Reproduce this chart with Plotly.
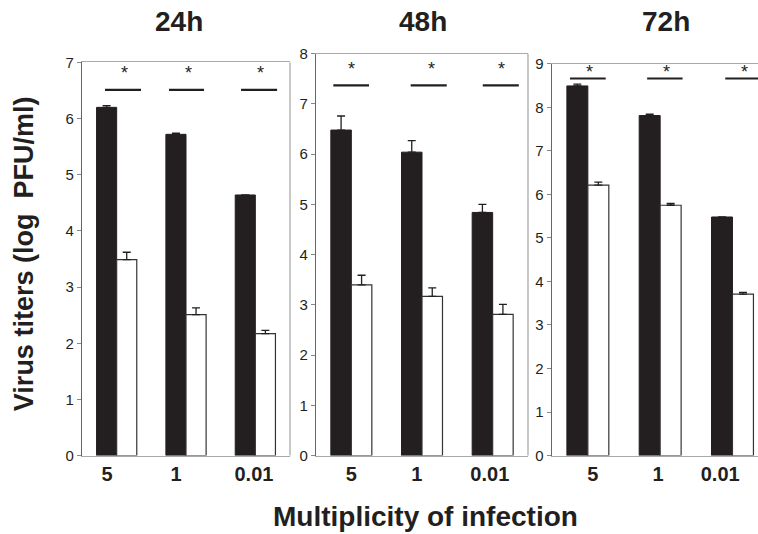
import plotly.graph_objects as go

# ---- data ----
categories = ["5", "1", "0.01"]
panels = ["24h", "48h", "72h"]

black_24 = [6.20, 5.72, 4.64]
black_24_err = [0.03, 0.02, 0.0]
white_24 = [3.49, 2.51, 2.17]
white_24_err = [0.13, 0.12, 0.06]

black_48 = [6.48, 6.04, 4.84]
black_48_err = [0.28, 0.23, 0.16]
white_48 = [3.40, 3.17, 2.81]
white_48_err = [0.19, 0.17, 0.20]

black_72 = [8.49, 7.81, 5.48]
black_72_err = [0.04, 0.03, 0.0]
white_72 = [6.21, 5.75, 3.71]
white_72_err = [0.07, 0.04, 0.04]

y_max = [7, 8, 9]

# ---- layout config ----
W, H = 758, 534
DARK = "#231f20"
FONT = "Liberation Sans, Arial, sans-serif"

def px(x):
    return x / W

def py(y):
    return 1 - ((y - 9.4) / 0.966) / H

x_domains = [(px(82), px(290)), (px(316), px(528)), (px(551.7), 1.0)]
y_domains = [(py(455), py(62.7)), (py(455), py(54)), (py(455), py(64))]
x_ranges = [[-0.5, 2.5], [-0.5, 2.5], [-0.5, 2.353]]
label_pos = [[-0.14, 0.855, 1.98], [0.0, 0.925, 1.96], [0.07, 0.97, 1.83]]
sig_y = [6.51, 7.37, 8.66]
sig_x = [[(-0.168, 0.351), (0.755, 1.26), (1.794, 2.314)],
         [(-0.255, 0.25), (0.84, 1.35), (1.86, 2.37)],
         [(-0.247, 0.247), (0.82, 1.31), (1.90, 2.40)]]
star_x = [[0.12, 1.04, 2.08], [0.005, 1.13, 2.12], [0.016, 1.09, 2.16]]
star_dy = [0.08, 0.09, -0.12]
title_x = [179, 423, 665.5]

blacks = [(black_24, black_24_err), (black_48, black_48_err), (black_72, black_72_err)]
whites = [(white_24, white_24_err), (white_48, white_48_err), (white_72, white_72_err)]

fig = go.Figure()
xpos = list(range(len(categories)))

for i in range(3):
    xa = "x" if i == 0 else f"x{i+1}"
    ya = "y" if i == 0 else f"y{i+1}"
    b, be = blacks[i]
    w, we = whites[i]
    fig.add_trace(go.Bar(
        x=xpos, y=b, xaxis=xa, yaxis=ya, offsetgroup="black",
        marker=dict(color=DARK, line=dict(color=DARK, width=1)),
        error_y=dict(type="data", symmetric=False, array=be,
                     arrayminus=[0] * len(be), color=DARK, thickness=1.3, width=4,
                     visible=True),
        showlegend=False, hoverinfo="skip"))
    fig.add_trace(go.Bar(
        x=xpos, y=w, xaxis=xa, yaxis=ya, offsetgroup="white",
        marker=dict(color="white", line=dict(color="#333333", width=1.2)),
        error_y=dict(type="data", symmetric=False, array=we,
                     arrayminus=[0] * len(we), color=DARK, thickness=1.3, width=4,
                     visible=True),
        showlegend=False, hoverinfo="skip"))

    sfx = "" if i == 0 else str(i + 1)
    fig.layout[f"xaxis{sfx}"] = dict(
        domain=list(x_domains[i]), range=x_ranges[i], anchor=ya,
        showline=True, linecolor="#aaaaaa", linewidth=1.3, mirror=True,
        tickmode="array", tickvals=label_pos[i], ticktext=categories,
        ticks="", showgrid=False, zeroline=False,
        tickfont=dict(family=FONT, size=20, color=DARK, weight="bold"),
        fixedrange=True)
    fig.layout[f"yaxis{sfx}"] = dict(
        domain=list(y_domains[i]), range=[0, y_max[i]], anchor=xa,
        showline=True, linecolor="#666666", linewidth=1.3,
        mirror=False, dtick=1, ticks="outside", ticklen=4, tickcolor="#888888",
        showgrid=False, zeroline=False,
        tickfont=dict(family=FONT, size=15, color=DARK),
        fixedrange=True)

    if i < 2:
        fig.add_shape(type="line", xref="paper", yref="paper",
                      x0=x_domains[i][1], x1=x_domains[i][1],
                      y0=y_domains[i][0], y1=y_domains[i][1],
                      line=dict(color="#aaaaaa", width=1.3))

    for k in range(3):
        x0, x1 = sig_x[i][k]
        fig.add_shape(type="line", xref=xa, yref=ya, x0=x0, x1=x1,
                      y0=sig_y[i], y1=sig_y[i],
                      line=dict(color=DARK, width=2.2))
        fig.add_annotation(x=star_x[i][k], y=sig_y[i] + star_dy[i], xref=xa, yref=ya,
                           text="*", showarrow=False, yanchor="bottom",
                           font=dict(family=FONT, size=18, color=DARK))

    fig.add_annotation(x=px(title_x[i]), y=py(22), xref="paper", yref="paper",
                       text=panels[i], showarrow=False, xanchor="center", yanchor="middle",
                       font=dict(family=FONT, size=28, color=DARK, weight="bold"))

fig.add_annotation(x=px(425), y=py(516), xref="paper", yref="paper",
                   text="Multiplicity of infection", showarrow=False,
                   xanchor="center", yanchor="middle",
                   font=dict(family=FONT, size=28, color=DARK, weight="bold"))
fig.add_annotation(x=px(24), y=py(254), xref="paper", yref="paper",
                   text="Virus titers (log\u00a0 PFU/ml)", showarrow=False, textangle=-90,
                   xanchor="center", yanchor="middle",
                   font=dict(family=FONT, size=27, color=DARK, weight="bold"))

fig.update_layout(
    width=W, height=H, margin=dict(l=0, r=0, t=0, b=0),
    paper_bgcolor="white", plot_bgcolor="white",
    barmode="group", bargap=0.42, bargroupgap=0,
)

fig.write_html("out.html", config={"displayModeBar": False},
               post_script="document.body.style.margin='0';document.body.style.overflow='hidden';")
